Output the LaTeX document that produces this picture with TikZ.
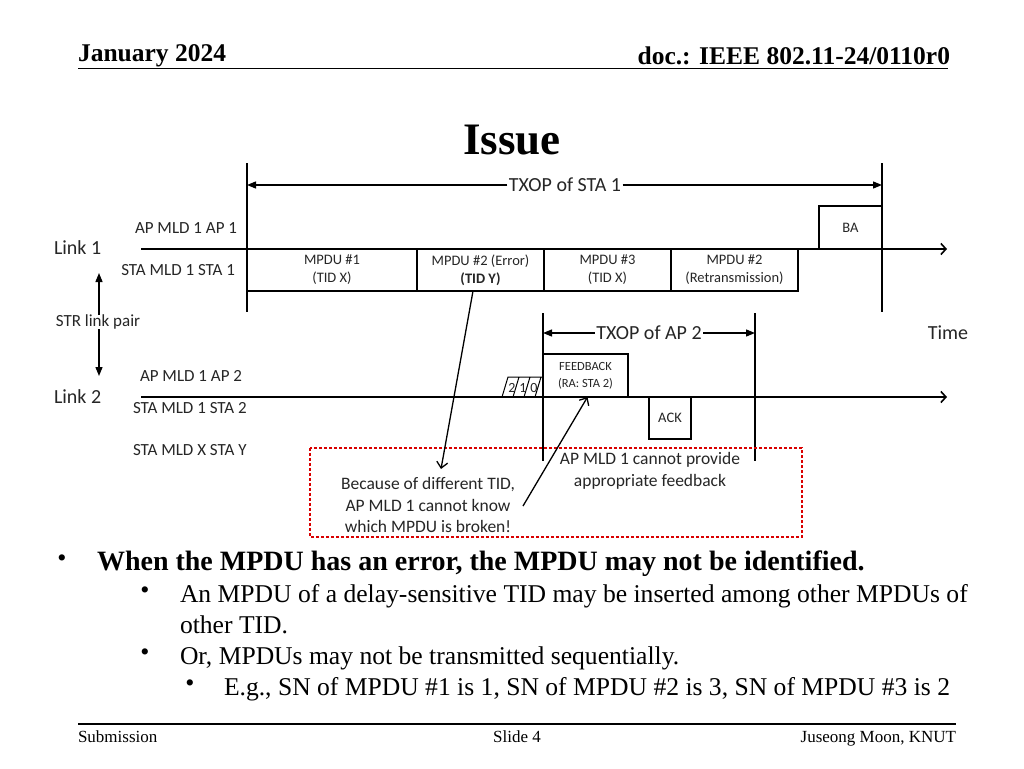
\documentclass[tikz,border=0pt]{standalone}
\usepackage{fontspec}
\setmainfont{Liberation Serif}
\newfontfamily\diag{Carlito}
\usetikzlibrary{arrows.meta,positioning}

\begin{document}
\begin{tikzpicture}[x=1pt,y=-1pt,line width=1.3pt,every node/.style={inner sep=0pt,outer sep=0pt},
    lbl/.style={font=\diag\fontsize{17}{20}\selectfont,text=black!85},
    big/.style={font=\diag\fontsize{20}{24}\selectfont,text=black!85,inner sep=1.5pt},
    frame/.style={draw,align=center,minimum height=42pt,text=black!85,font=\diag\fontsize{14.5}{18}\selectfont},
    note/.style={font=\diag\fontsize{17.5}{21.5}\selectfont,align=center,text=black!85},
    dot/.style={font=\fontsize{26}{28}\selectfont},
    tri/.style={-{Triangle[length=9pt,width=7pt]}},
    open/.style={-{Straight Barb[length=6pt,width=11pt]}},
    axis/.style={line width=1.6pt,-{Straight Barb[length=5pt,width=11pt]}}]
  \useasboundingbox[fill=white](0,0)rectangle(1024,768);
  % header
  \node[anchor=base west,font=\bfseries\fontsize{25.5}{28}\selectfont](date)at(78,61){January 2024};
  \node[anchor=base east,font=\bfseries\fontsize{25.5}{28}\selectfont](doc)at(950,64){doc.: IEEE 802.11-24/0110r0};
  \draw[line width=1.8pt](78,68.5)--(948,68.5);
  \node[anchor=base,font=\bfseries\fontsize{45}{50}\selectfont](title)at(512,154){Issue};
  % TXOP of STA 1
  \coordinate(s1a)at(247,163);\coordinate(s1b)at(247,312);
  \coordinate(s1c)at(882,163);\coordinate(s1d)at(882,312);
  \draw(s1a)--(s1b)(s1c)--(s1d);
  \node[big](txs)at(565,185){TXOP of STA 1};
  \draw[tri](txs.west)--(txs.west-|s1a);
  \draw[tri](txs.east)--(txs.east-|s1c);
  % link 1
  \coordinate(l1a)at(141,249);\coordinate(l1b)at(947,249);
  \draw[axis](l1a)--(l1b);
  \node[big,anchor=west,inner sep=0pt](link1)at(54,248){Link 1};
  \node[lbl,anchor=east](ap1)at(237,228){AP MLD 1 AP 1};
  \node[lbl,anchor=east](sta1)at(235,270){STA MLD 1 STA 1};
  \node[frame,minimum width=170pt,anchor=north west](m1)at(247,249){MPDU \#1\\(TID X)};
  \node[frame,minimum width=127pt,anchor=north west](m2)at(m1.north east){MPDU \#2 (Error)\\\textbf{(TID Y)}};
  \node[frame,minimum width=127pt,anchor=north west](m3)at(m2.north east){MPDU \#3\\(TID X)};
  \node[frame,minimum width=127pt,anchor=north west](m4)at(m3.north east){MPDU \#2\\(Retransmission)};
  \node[frame,minimum width=63pt,minimum height=43pt,anchor=south east](ba)at(882,249){BA};
  % STR link pair
  \node[lbl](str)at(98,322){STR link pair};
  \coordinate(up)at(99,273);\coordinate(dn)at(99,376);
  \draw[tri](str.north-|up)--(up);
  \draw[tri](str.south-|dn)--(dn);
  % link 2
  \coordinate(l2a)at(141,397);\coordinate(l2b)at(947,397);
  \draw[axis](l2a)--(l2b);
  \node[big,anchor=west,inner sep=0pt](link2)at(54,397){Link 2};
  \node[lbl,anchor=west](ap2)at(140,376){AP MLD 1 AP 2};
  \node[lbl,anchor=west](sta2)at(133,408){STA MLD 1 STA 2};
  \node[lbl,anchor=west](stay)at(133,450){STA MLD X STA Y};
  % TXOP of AP 2
  \coordinate(t2a)at(543,313);\coordinate(t2b)at(543,461);
  \coordinate(t2c)at(755,313);\coordinate(t2d)at(755,461);
  \draw(t2a)--(t2b)(t2c)--(t2d);
  \node[big](txa)at(649,333){TXOP of AP 2};
  \draw[tri](txa.west)--(txa.west-|t2a);
  \draw[tri](txa.east)--(txa.east-|t2c);
  \node[big](time)at(948,333){Time};
  \node[frame,minimum width=85pt,minimum height=43pt,anchor=south west,font=\diag\fontsize{12.5}{17}\selectfont](fb)at(543,397){FEEDBACK\\(RA: STA 2)};
  \node[frame,minimum width=42pt,anchor=north west](ack)at(649,397){ACK};
  % backoff slots
  \draw[line width=1pt](502,397)--(508,377)--(543,377)(513,397)--(519,377)(524,397)--(530,377)(535,397)--(541,377);
  \foreach \n/\x in {2/512,1/523,0/534}
    \node[font=\diag\fontsize{14}{15}\selectfont,text=black!85](bo\n)at(\x,388){\n};
  % red box
  \draw[red!85!black,line width=1.1pt,dash pattern=on 3pt off 2pt](310,448)rectangle(802,537);
  \node[note](why)at(428,505){Because of different TID,\\AP MLD 1 cannot know\\which MPDU is broken!};
  \node[note](nofb)at(650,471){AP MLD 1 cannot provide\\appropriate feedback};
  \coordinate(c1)at(441,469);\coordinate(c2)at(523,506);
  \draw[open]([xshift=-7.5pt]m2.south)--(c1);
  \draw[open](c2)--([xshift=2pt]fb.south);
  % bullets
  \node[dot](d1)at(62,561){•};
  \node[anchor=base west,font=\bfseries\fontsize{28}{30}\selectfont](p1)at(97,570){When the MPDU has an error, the MPDU may not be identified.};
  \node[dot](d2)at(145,593){•};
  \node[anchor=base west,font=\fontsize{25.6}{30}\selectfont](p2)at(180,602){An MPDU of a delay-sensitive TID may be inserted among other MPDUs of};
  \node[anchor=base west,font=\fontsize{25.6}{30}\selectfont](p2b)at(180,633){other TID.};
  \node[dot](d3)at(145,655){•};
  \node[anchor=base west,font=\fontsize{25.6}{30}\selectfont](p3)at(180,664){Or, MPDUs may not be transmitted sequentially.};
  \node[dot](d4)at(190,686){•};
  \node[anchor=base west,font=\fontsize{25.6}{30}\selectfont](p4)at(224,695){E.g., SN of MPDU \#1 is 1, SN of MPDU \#2 is 3, SN of MPDU \#3 is 2};
  % footer
  \draw[line width=1.8pt](78,724)--(956,724);
  \node[anchor=base west,font=\fontsize{17}{20}\selectfont](sub)at(78,742){Submission};
  \node[anchor=base,font=\fontsize{17}{20}\selectfont](slide)at(517,742){Slide 4};
  \node[anchor=base east,font=\fontsize{17}{20}\selectfont](auth)at(956,742){Juseong Moon, KNUT};
\end{tikzpicture}
\end{document}
